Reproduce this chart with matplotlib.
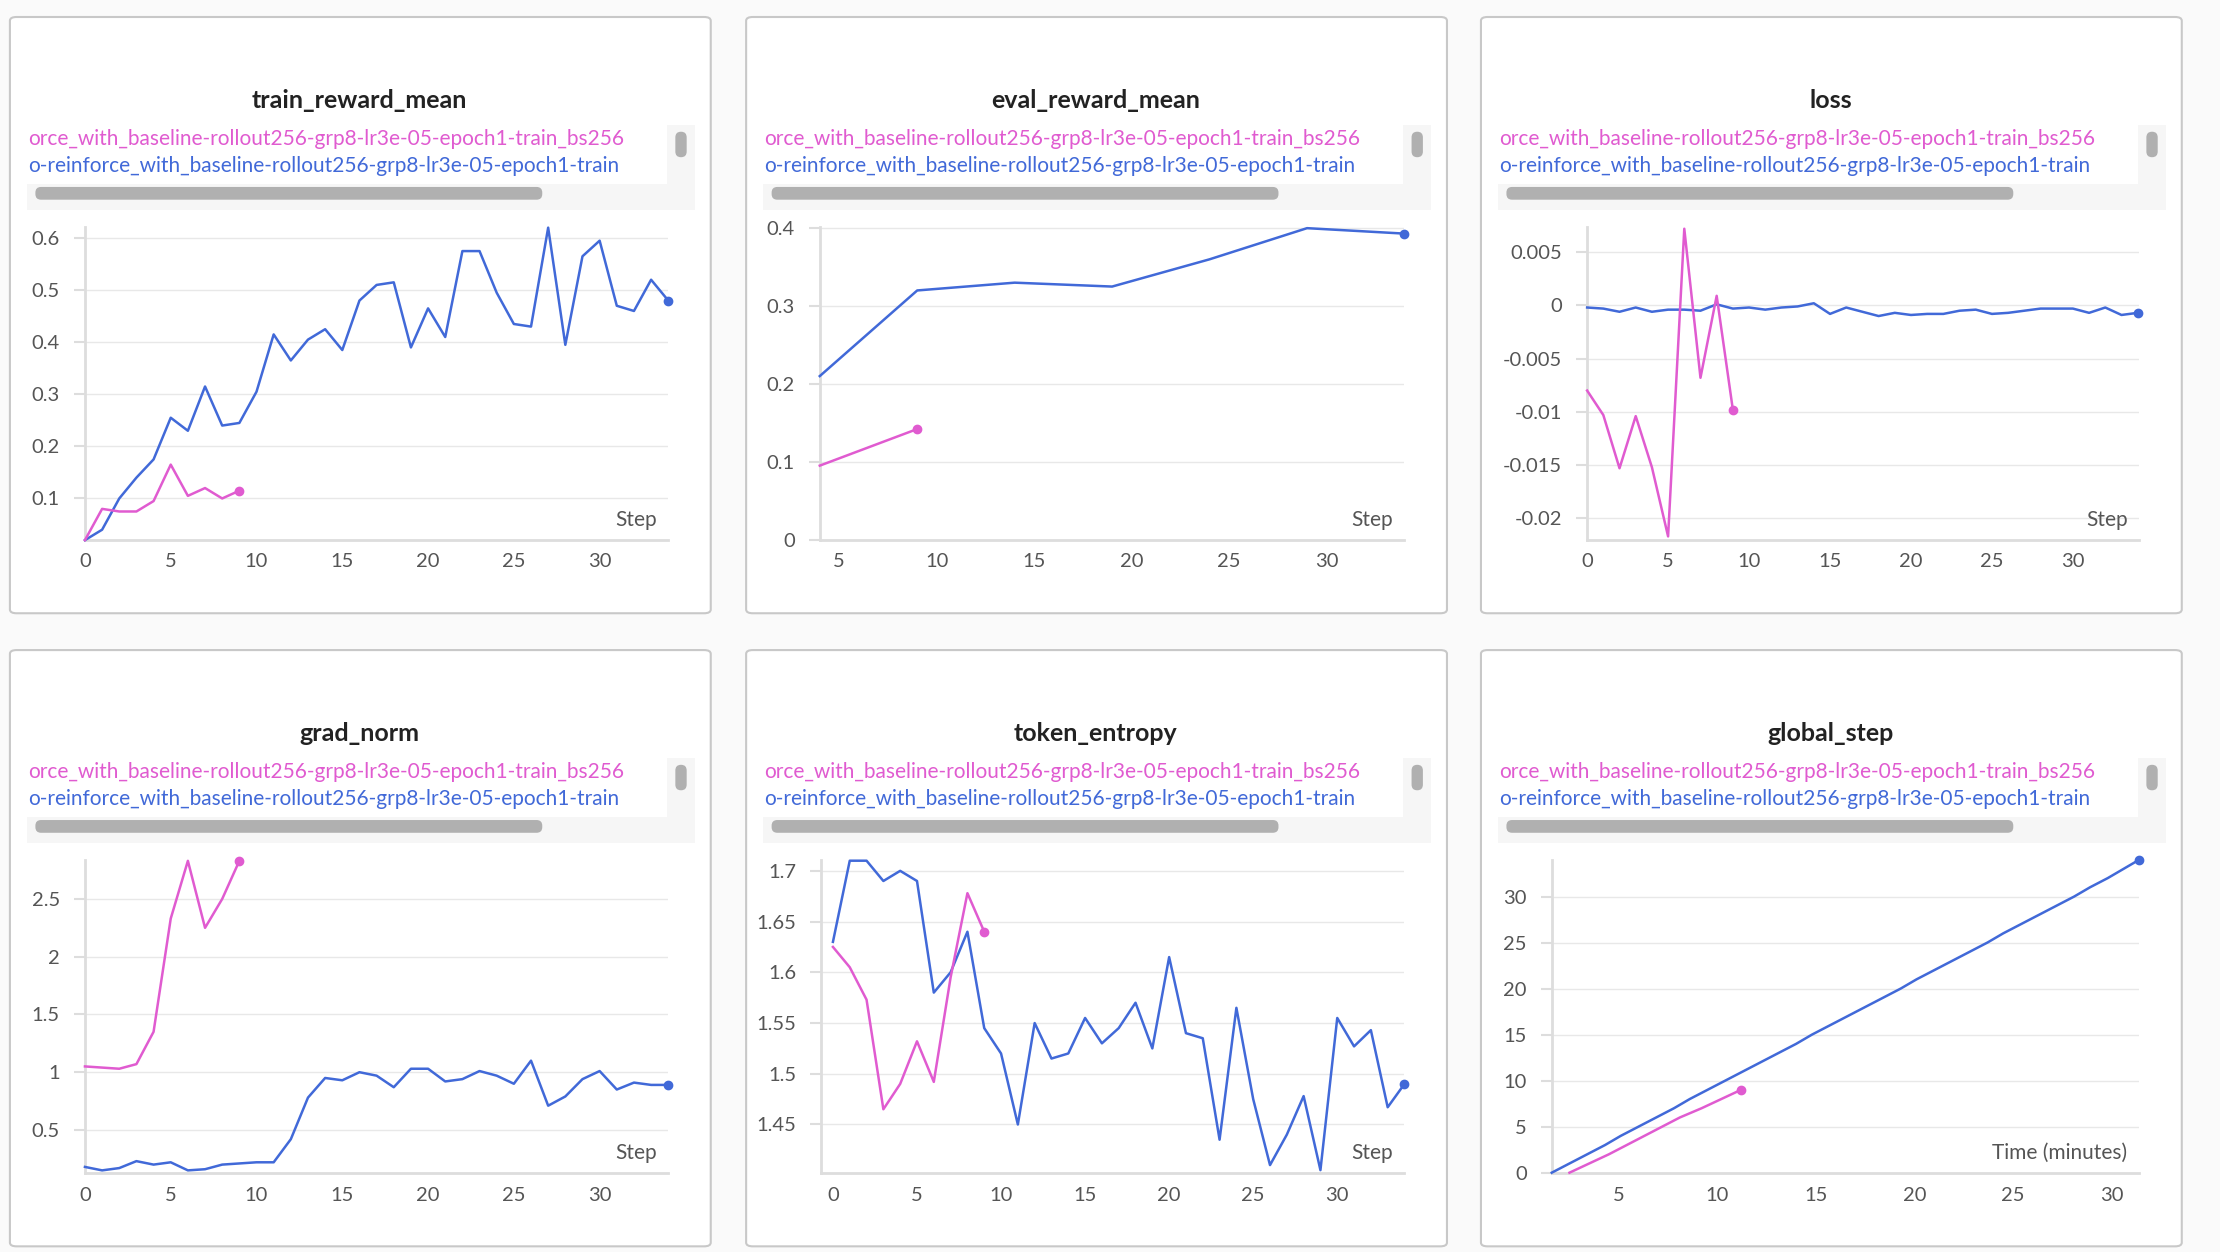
import matplotlib
matplotlib.use("Agg")
import matplotlib.pyplot as plt
from matplotlib.patches import FancyBboxPatch

plt.rcParams['font.family'] = ['Lato', 'DejaVu Sans']

BLUE = '#4169d8'
PINK = '#e05bd0'

steps = list(range(35))
steps_pink = list(range(10))

train_blue = [0.02, 0.04, 0.10, 0.14, 0.175, 0.255, 0.23, 0.315, 0.24, 0.245, 0.305, 0.415, 0.365, 0.405,
              0.425, 0.385, 0.48, 0.51, 0.515, 0.39, 0.465, 0.41, 0.575, 0.575, 0.495, 0.435, 0.43, 0.62,
              0.395, 0.565, 0.595, 0.47, 0.46, 0.52, 0.48]
train_pink = [0.02, 0.08, 0.075, 0.075, 0.095, 0.165, 0.105, 0.12, 0.10, 0.115]

eval_steps_blue = [4, 9, 14, 19, 24, 29, 34]
eval_blue = [0.21, 0.32, 0.33, 0.325, 0.36, 0.40, 0.393]
eval_steps_pink = [4, 9]
eval_pink = [0.095, 0.142]

loss_blue = [-0.0002, -0.0003, -0.0006, -0.0002, -0.0006, -0.0004, -0.0004, -0.0005, 0.0001, -0.0003,
             -0.0002, -0.0004, -0.0002, -0.0001, 0.0002, -0.0008, -0.0002, -0.0006, -0.001, -0.0007,
             -0.0009, -0.0008, -0.0008, -0.0005, -0.0004, -0.0008, -0.0007, -0.0005, -0.0003, -0.0003,
             -0.0003, -0.0007, -0.0002, -0.0009, -0.0007]
loss_pink = [-0.008, -0.0103, -0.0153, -0.0104, -0.0152, -0.0217, 0.0072, -0.0068, 0.0009, -0.0098]

grad_blue = [0.18, 0.15, 0.17, 0.23, 0.2, 0.22, 0.15, 0.16, 0.2, 0.21, 0.22, 0.22, 0.42, 0.78, 0.95, 0.93,
             1.0, 0.97, 0.87, 1.03, 1.03, 0.92, 0.94, 1.01, 0.97, 0.9, 1.1, 0.71, 0.79, 0.94, 1.01, 0.85,
             0.91, 0.89, 0.89]
grad_pink = [1.05, 1.04, 1.03, 1.07, 1.35, 2.33, 2.83, 2.25, 2.5, 2.83]

ent_blue = [1.63, 1.71, 1.71, 1.69, 1.70, 1.69, 1.58, 1.60, 1.64, 1.545, 1.52, 1.45, 1.55, 1.515, 1.52,
            1.555, 1.53, 1.545, 1.57, 1.525, 1.615, 1.54, 1.535, 1.435, 1.565, 1.475, 1.41, 1.44, 1.478,
            1.405, 1.555, 1.527, 1.543, 1.467, 1.49]
ent_pink = [1.625, 1.605, 1.573, 1.465, 1.49, 1.532, 1.492, 1.595, 1.678, 1.64]

time_blue = [1.6, 2.5, 3.4, 4.3, 5.1, 6.0, 6.9, 7.8, 8.6, 9.5, 10.4, 11.3, 12.2, 13.1, 14.0, 14.8, 15.7,
             16.6, 17.5, 18.4, 19.3, 20.1, 21.0, 21.9, 22.8, 23.7, 24.5, 25.4, 26.3, 27.2, 28.1, 28.9,
             29.8, 30.6, 31.4]
time_pink = [2.5, 3.5, 4.5, 5.4, 6.3, 7.2, 8.1, 9.2, 10.2, 11.2]

legend_pink = "orce_with_baseline-rollout256-grp8-lr3e-05-epoch1-train_bs256"
legend_blue = "o-reinforce_with_baseline-rollout256-grp8-lr3e-05-epoch1-train"

W, H = 1568.0, 884.0
fig = plt.figure(figsize=(22.2, 12.52), dpi=100)
fig.patch.set_facecolor('#fafafa')

def box(x0, y0, w, h):
    return [x0 / W, 1 - (y0 + h) / H, w / W, h / H]

panels = [
    dict(title='train_reward_mean', col=0, row=0, left=53,
         series=[(steps, train_blue, BLUE), (steps_pink, train_pink, PINK)],
         xlim=(0, 34), ylim=(0.021, 0.622), yticks=[0.1, 0.2, 0.3, 0.4, 0.5, 0.6],
         ylabels=['0.1', '0.2', '0.3', '0.4', '0.5', '0.6'], xticks=[0, 5, 10, 15, 20, 25, 30], xl='Step'),
    dict(title='eval_reward_mean', col=1, row=0, left=52,
         series=[(eval_steps_blue, eval_blue, BLUE), (eval_steps_pink, eval_pink, PINK)],
         xlim=(4, 34), ylim=(0, 0.402), yticks=[0, 0.1, 0.2, 0.3, 0.4],
         ylabels=['0', '0.1', '0.2', '0.3', '0.4'], xticks=[5, 10, 15, 20, 25, 30], xl='Step'),
    dict(title='loss', col=2, row=0, left=75,
         series=[(steps, loss_blue, BLUE), (steps_pink, loss_pink, PINK)],
         xlim=(0, 34.1), ylim=(-0.022, 0.0074), yticks=[-0.02, -0.015, -0.01, -0.005, 0, 0.005],
         ylabels=['-0.02', '-0.015', '-0.01', '-0.005', '0', '0.005'], xticks=[0, 5, 10, 15, 20, 25, 30], xl='Step'),
    dict(title='grad_norm', col=0, row=1, left=53,
         series=[(steps, grad_blue, BLUE), (steps_pink, grad_pink, PINK)],
         xlim=(0, 34), ylim=(0.13, 2.84), yticks=[0.5, 1, 1.5, 2, 2.5],
         ylabels=['0.5', '1', '1.5', '2', '2.5'], xticks=[0, 5, 10, 15, 20, 25, 30], xl='Step'),
    dict(title='token_entropy', col=1, row=1, left=53,
         series=[(steps, ent_blue, BLUE), (steps_pink, ent_pink, PINK)],
         xlim=(-0.7, 34), ylim=(1.4025, 1.711), yticks=[1.45, 1.5, 1.55, 1.6, 1.65, 1.7],
         ylabels=['1.45', '1.5', '1.55', '1.6', '1.65', '1.7'], xticks=[0, 5, 10, 15, 20, 25, 30], xl='Step'),
    dict(title='global_step', col=2, row=1, left=50,
         series=[(time_blue, steps, BLUE), (time_pink, steps_pink, PINK)],
         xlim=(1.6, 31.4), ylim=(0, 34), yticks=[0, 5, 10, 15, 20, 25, 30],
         ylabels=['0', '5', '10', '15', '20', '25', '30'], xticks=[5, 10, 15, 20, 25, 30], xl='Time (minutes)'),
]

col_x = [7, 527, 1046]
row_y = [12, 459]

for p in panels:
    px, py = col_x[p['col']], row_y[p['row']]
    # panel frame (kept behind the axes)
    fig.patches.append(FancyBboxPatch((px / W, 1 - (py + 421) / H), 495 / W, 421 / H,
                                      boxstyle='round,pad=0,rounding_size=0.003', transform=fig.transFigure,
                                      facecolor='white', edgecolor='#c8c8c8', linewidth=1.5, zorder=-10))
    fig.text((px + 247) / W, 1 - (py + 59) / H, p['title'], ha='center', va='center',
             fontsize=18, fontweight='bold', color='#222222')
    # legend strip
    lg = fig.add_axes(box(px + 12, py + 76, 472, 60))
    lg.set_xlim(0, 472)
    lg.set_ylim(60, 0)
    lg.axis('off')
    lg.add_patch(plt.Rectangle((0, 0), 472, 60, facecolor='#f6f6f6', edgecolor='none'))
    lg.add_patch(plt.Rectangle((0, 0), 452, 42, facecolor='white', edgecolor='none'))
    lg.text(1, 10, legend_pink, color=PINK, fontsize=15, va='center', ha='left', clip_on=True)
    lg.text(1, 29, legend_blue, color=BLUE, fontsize=15, va='center', ha='left', clip_on=True)
    lg.add_patch(plt.Rectangle((452, 0), 20, 42, facecolor='#f6f6f6', edgecolor='none', zorder=3))
    lg.add_patch(FancyBboxPatch((458, 5), 8, 18, boxstyle='round,pad=0,rounding_size=4',
                                facecolor='#b0b0b0', edgecolor='none', zorder=4))
    lg.add_patch(FancyBboxPatch((6, 44), 358, 9, boxstyle='round,pad=0,rounding_size=4',
                                facecolor='#b0b0b0', edgecolor='none', zorder=4))
    # main axes
    ax = fig.add_axes(box(px + p['left'], py + 148, 465 - p['left'], 221))
    ax.set_facecolor('none')
    for xs, ys, c in p['series']:
        ax.plot(xs, ys, color=c, linewidth=1.8, clip_on=False, zorder=3)
        ax.plot(xs[-1], ys[-1], 'o', color=c, markersize=6, clip_on=False, zorder=4)
    ax.set_xlim(*p['xlim'])
    ax.set_ylim(*p['ylim'])
    ax.set_yticks(p['yticks'])
    ax.set_yticklabels(p['ylabels'])
    ax.set_xticks(p['xticks'])
    for s in ['top', 'right']:
        ax.spines[s].set_visible(False)
    ax.spines['left'].set_color('#dddddd')
    ax.spines['left'].set_linewidth(2)
    ax.spines['bottom'].set_color('#dddddd')
    ax.spines['bottom'].set_linewidth(2)
    ax.grid(axis='y', color='#e8e8e8', linewidth=1)
    ax.tick_params(colors='#555555', labelsize=14.5, length=0, pad=10)
    ax.tick_params(axis='y', length=8, color='#dddddd', width=1.5)
    ax.text(0.98, 0.03, p['xl'], transform=ax.transAxes, ha='right', va='bottom',
            fontsize=15, color='#555555')

fig.savefig('out.png', dpi=100, facecolor=fig.get_facecolor())
